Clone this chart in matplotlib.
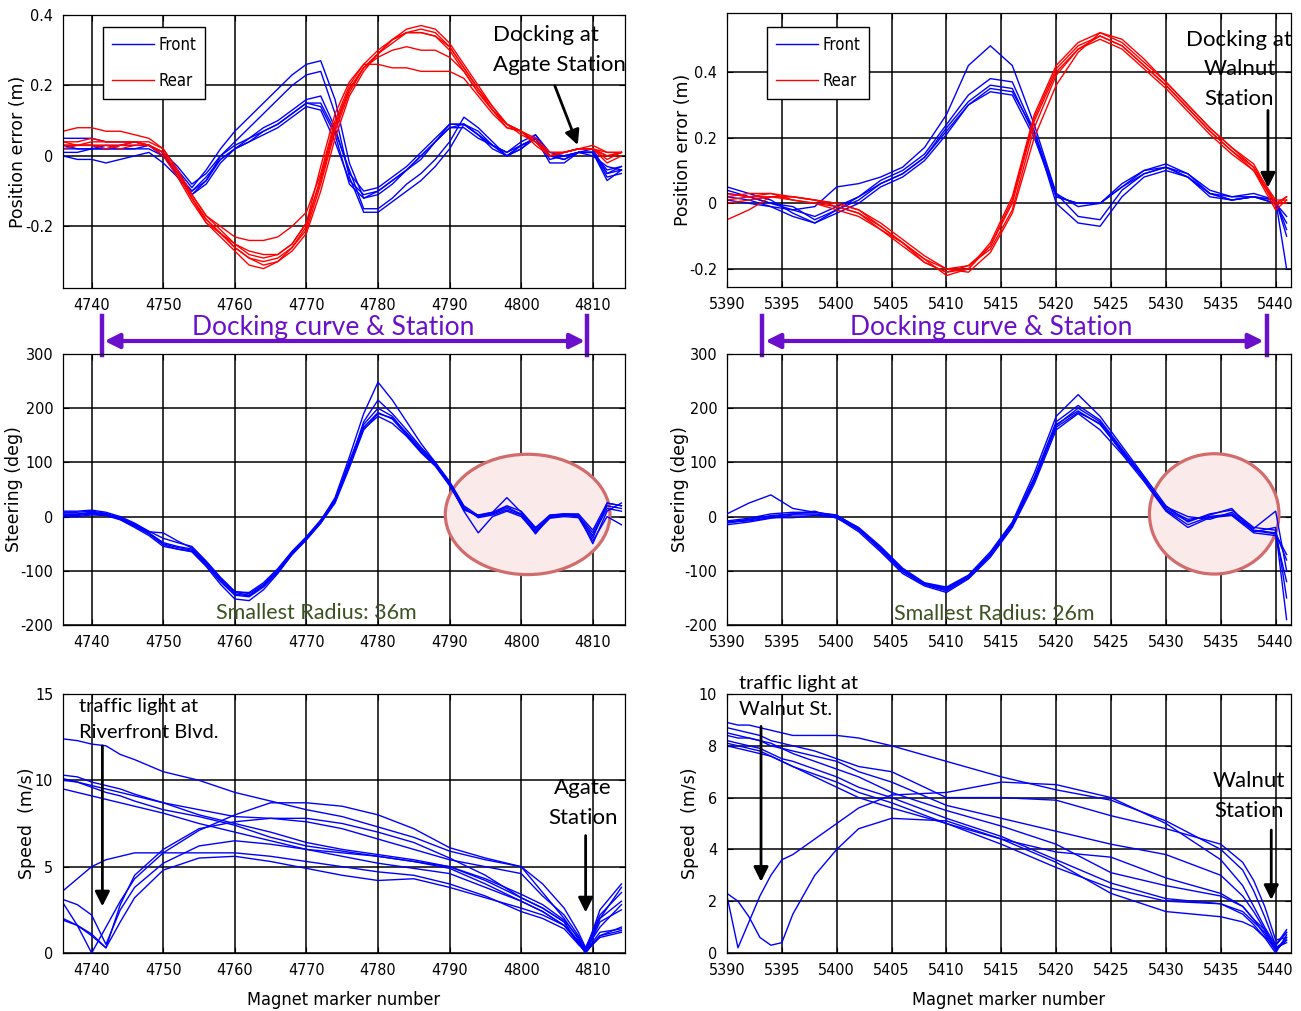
import numpy as np
import matplotlib
matplotlib.use("Agg")
import matplotlib.pyplot as plt
from matplotlib import font_manager
from matplotlib.font_manager import FontProperties
from matplotlib.patches import Ellipse
from matplotlib.transforms import blended_transform_factory

# ---------------- data ----------------
# top-left: position error, Agate run
pe_a_x = [4736, 4738, 4740, 4742, 4744, 4746, 4748, 4750, 4752, 4754, 4756, 4758, 4760, 4762,
          4764, 4766, 4768, 4770, 4772, 4774, 4776, 4778, 4780, 4782, 4784, 4786, 4788, 4790,
          4792, 4794, 4796, 4798, 4800, 4802, 4804, 4806, 4808, 4810, 4812, 4814]
pe_a_front = [
    [0.02, 0.02, 0.02, 0.03, 0.03, 0.03, 0.03, 0.0, -0.05, -0.10, -0.06, -0.01, 0.02, 0.04, 0.06, 0.08, 0.11, 0.14, 0.13, 0.04,
     -0.07, -0.11, -0.10, -0.07, -0.04, -0.01, 0.04, 0.08, 0.08, 0.05, 0.03, 0.0, 0.03, 0.05, 0.0, 0.0, 0.01, 0.01, -0.04, -0.03],
    [0.03, 0.03, 0.03, 0.02, 0.03, 0.04, 0.03, 0.01, -0.03, -0.08, -0.05, 0.0, 0.03, 0.05, 0.08, 0.10, 0.13, 0.16, 0.17, 0.08,
     -0.05, -0.10, -0.09, -0.06, -0.03, 0.01, 0.05, 0.09, 0.09, 0.06, 0.03, 0.01, 0.04, 0.06, 0.0, -0.01, 0.01, 0.01, -0.05, -0.04],
    [0.05, 0.05, 0.05, 0.04, 0.04, 0.04, 0.03, 0.0, -0.04, -0.09, -0.04, 0.02, 0.07, 0.11, 0.15, 0.19, 0.23, 0.26, 0.27, 0.16,
     -0.02, -0.12, -0.11, -0.08, -0.04, 0.0, 0.04, 0.08, 0.09, 0.06, 0.02, 0.0, 0.03, 0.05, -0.02, -0.02, 0.01, 0.01, -0.06, -0.05],
    [0.0, -0.01, -0.01, -0.02, -0.01, 0.0, 0.01, -0.02, -0.06, -0.10, -0.07, 0.0, 0.04, 0.08, 0.12, 0.16, 0.20, 0.23, 0.24, 0.12,
     -0.06, -0.16, -0.16, -0.13, -0.10, -0.07, -0.03, 0.02, 0.09, 0.07, 0.03, 0.01, 0.03, 0.05, -0.01, 0.0, 0.01, 0.0, -0.03, -0.04],
    [0.01, 0.01, 0.02, 0.02, 0.02, 0.02, 0.02, 0.0, -0.04, -0.11, -0.08, -0.02, 0.02, 0.05, 0.07, 0.09, 0.12, 0.15, 0.15, 0.07,
     -0.04, -0.15, -0.15, -0.12, -0.08, -0.05, -0.01, 0.04, 0.11, 0.08, 0.04, 0.0, 0.02, 0.05, 0.0, -0.01, 0.01, 0.01, -0.07, -0.04],
    [0.03, 0.02, 0.02, 0.02, 0.02, 0.02, 0.03, 0.01, -0.06, -0.11, -0.07, -0.01, 0.02, 0.04, 0.07, 0.09, 0.12, 0.15, 0.14, 0.06,
     -0.08, -0.12, -0.10, -0.07, -0.04, 0.0, 0.04, 0.09, 0.09, 0.06, 0.03, 0.0, 0.02, 0.06, 0.01, 0.0, 0.01, 0.02, -0.05, -0.03],
]
pe_a_rear = [
    [0.03, 0.03, 0.03, 0.03, 0.03, 0.03, 0.03, 0.01, -0.05, -0.12, -0.18, -0.22, -0.26, -0.29, -0.30, -0.29, -0.26, -0.20, -0.06, 0.09,
     0.19, 0.25, 0.29, 0.32, 0.35, 0.36, 0.35, 0.31, 0.25, 0.19, 0.13, 0.09, 0.07, 0.04, 0.0, 0.01, 0.02, 0.02, 0.0, 0.01],
    [0.07, 0.08, 0.08, 0.07, 0.07, 0.06, 0.05, 0.02, -0.04, -0.11, -0.17, -0.20, -0.23, -0.24, -0.24, -0.23, -0.20, -0.16, -0.05, 0.10,
     0.20, 0.26, 0.26, 0.25, 0.25, 0.24, 0.24, 0.24, 0.22, 0.17, 0.12, 0.08, 0.07, 0.05, 0.01, 0.01, 0.02, 0.02, 0.01, 0.01],
    [0.04, 0.04, 0.05, 0.04, 0.04, 0.04, 0.03, 0.0, -0.06, -0.13, -0.19, -0.23, -0.27, -0.31, -0.32, -0.30, -0.27, -0.22, -0.10, 0.05,
     0.17, 0.24, 0.29, 0.33, 0.36, 0.37, 0.36, 0.32, 0.26, 0.20, 0.14, 0.09, 0.07, 0.04, 0.0, 0.01, 0.02, 0.02, -0.01, 0.01],
    [0.02, 0.03, 0.03, 0.03, 0.02, 0.03, 0.03, 0.01, -0.05, -0.12, -0.18, -0.22, -0.25, -0.27, -0.28, -0.28, -0.25, -0.19, -0.07, 0.08,
     0.19, 0.25, 0.28, 0.30, 0.31, 0.30, 0.30, 0.28, 0.24, 0.18, 0.13, 0.09, 0.07, 0.04, 0.0, 0.01, 0.02, 0.02, 0.0, 0.01],
    [0.03, 0.03, 0.03, 0.02, 0.03, 0.04, 0.04, 0.02, -0.04, -0.11, -0.17, -0.21, -0.25, -0.28, -0.29, -0.28, -0.25, -0.19, -0.03, 0.12,
     0.21, 0.26, 0.30, 0.33, 0.35, 0.35, 0.34, 0.30, 0.24, 0.18, 0.13, 0.08, 0.07, 0.03, 0.0, 0.01, 0.02, 0.02, -0.02, 0.0],
    [0.04, 0.03, 0.04, 0.04, 0.04, 0.04, 0.03, 0.01, -0.05, -0.12, -0.19, -0.22, -0.26, -0.29, -0.31, -0.30, -0.26, -0.21, -0.08, 0.07,
     0.18, 0.25, 0.29, 0.33, 0.35, 0.35, 0.34, 0.31, 0.25, 0.19, 0.14, 0.09, 0.06, 0.04, 0.01, 0.01, 0.02, 0.03, 0.01, 0.01],
]

# top-right: position error, Walnut run
pe_w_x = [5390, 5392, 5394, 5396, 5398, 5400, 5402, 5404, 5406, 5408, 5410, 5412, 5414, 5416,
          5418, 5420, 5422, 5424, 5426, 5428, 5430, 5432, 5434, 5436, 5438, 5440, 5441]
pe_w_front = [
    [0.03, 0.02, 0.0, -0.01, -0.05, -0.02, 0.01, 0.06, 0.09, 0.14, 0.22, 0.30, 0.34, 0.33, 0.20, 0.02, 0.0, 0.0, 0.05, 0.09, 0.11, 0.08, 0.03, 0.01, 0.02, 0.0, -0.06],
    [0.02, 0.01, -0.01, -0.02, -0.01, 0.05, 0.06, 0.08, 0.11, 0.17, 0.27, 0.42, 0.48, 0.42, 0.24, 0.03, -0.01, 0.0, 0.06, 0.10, 0.12, 0.09, 0.04, 0.02, 0.02, 0.01, -0.20],
    [0.05, 0.03, 0.01, -0.03, -0.06, -0.02, 0.02, 0.07, 0.10, 0.15, 0.24, 0.33, 0.38, 0.37, 0.22, 0.0, -0.06, -0.07, 0.02, 0.08, 0.10, 0.08, 0.02, 0.01, 0.02, 0.01, -0.10],
    [0.01, 0.0, -0.01, -0.04, -0.06, -0.03, 0.0, 0.05, 0.08, 0.13, 0.21, 0.30, 0.35, 0.34, 0.22, 0.03, -0.04, -0.05, 0.04, 0.09, 0.11, 0.09, 0.03, 0.01, 0.02, 0.0, -0.04],
    [0.04, 0.02, 0.0, -0.02, -0.04, -0.01, 0.02, 0.06, 0.09, 0.14, 0.23, 0.31, 0.36, 0.35, 0.21, 0.02, 0.0, 0.0, 0.05, 0.10, 0.11, 0.08, 0.03, 0.02, 0.03, 0.01, -0.08],
]
pe_w_rear = [
    [0.01, 0.02, 0.03, 0.01, 0.0, -0.01, -0.03, -0.07, -0.12, -0.17, -0.20, -0.19, -0.13, 0.0, 0.25, 0.40, 0.47, 0.51, 0.48, 0.42, 0.36, 0.29, 0.22, 0.16, 0.11, 0.01, 0.01],
    [-0.05, -0.02, 0.02, 0.02, 0.01, 0.0, -0.02, -0.06, -0.11, -0.16, -0.20, -0.21, -0.15, -0.03, 0.20, 0.36, 0.46, 0.52, 0.49, 0.43, 0.37, 0.30, 0.23, 0.17, 0.12, 0.0, 0.02],
    [0.02, 0.03, 0.03, 0.02, 0.01, 0.0, -0.02, -0.07, -0.12, -0.18, -0.21, -0.20, -0.12, 0.02, 0.27, 0.42, 0.49, 0.52, 0.50, 0.44, 0.37, 0.30, 0.23, 0.17, 0.11, -0.01, 0.02],
    [0.0, 0.01, 0.02, 0.02, 0.01, -0.01, -0.03, -0.08, -0.13, -0.18, -0.21, -0.19, -0.14, -0.02, 0.23, 0.39, 0.47, 0.50, 0.47, 0.41, 0.35, 0.28, 0.21, 0.15, 0.10, 0.0, 0.0],
    [0.03, 0.02, 0.02, 0.01, 0.0, -0.02, -0.04, -0.08, -0.12, -0.17, -0.22, -0.20, -0.13, 0.01, 0.26, 0.41, 0.48, 0.51, 0.48, 0.42, 0.36, 0.29, 0.22, 0.16, 0.10, -0.02, 0.01],
]

# middle-left: steering, Agate run
st_a_x = pe_a_x
st_a = [
    [5, 5, 8, 5, -3, -15, -30, -48, -55, -60, -85, -115, -140, -145, -128, -100, -67, -40, -10, 30,
     100, 165, 192, 180, 150, 120, 95, 60, 15, 0, 5, 15, 5, -25, 0, 3, 2, -30, 20, 15],
    [10, 10, 12, 8, 0, -12, -27, -40, -48, -55, -82, -112, -138, -142, -125, -98, -65, -38, -8, 35,
     110, 190, 248, 215, 175, 135, 100, 65, 20, 2, 8, 20, 10, -20, 2, 5, 3, -40, 25, 20],
    [2, 2, 5, 3, -5, -18, -32, -52, -60, -64, -90, -120, -145, -148, -130, -103, -70, -43, -12, 28,
     95, 175, 215, 190, 160, 128, 100, 62, 18, -2, 3, 12, 3, -28, -2, 2, 0, -35, 15, 10],
    [0, 0, 3, 2, -6, -20, -35, -55, -60, -65, -92, -125, -152, -155, -135, -105, -70, -42, -12, 25,
     90, 160, 190, 182, 155, 125, 98, 60, 10, -30, 0, 10, 0, -30, -3, 0, -2, -45, 0, -15],
    [8, 8, 10, 6, -2, -14, -28, -30, -45, -58, -84, -114, -139, -140, -122, -96, -64, -37, -6, 32,
     102, 170, 200, 185, 152, 122, 96, 58, 12, 3, 8, 35, 8, -22, 3, 5, 5, -25, 25, 20],
    [4, 4, 6, 4, -4, -16, -31, -50, -57, -62, -88, -118, -143, -146, -127, -101, -68, -41, -11, 28,
     97, 162, 185, 172, 148, 118, 93, 57, 14, 0, 6, 18, 4, -32, 1, 4, 2, -50, 10, 25],
]

# middle-right: steering, Walnut run
st_w_x = pe_w_x
st_w = [
    [-10, -5, 2, 5, 5, 0, -25, -60, -100, -125, -135, -112, -70, -15, 70, 170, 195, 170, 120, 70, 15, -5, 0, 5, -25, -30, -80],
    [5, 25, 40, 15, 8, 2, -20, -55, -95, -122, -130, -108, -65, -10, 80, 185, 225, 185, 130, 75, 20, -10, 5, 12, -20, -25, -190],
    [-15, -10, -3, 3, 3, -2, -28, -65, -105, -128, -140, -115, -75, -20, 60, 160, 190, 160, 115, 65, 10, -20, -2, 2, -30, -35, -120],
    [-8, -3, 5, 8, 8, 3, -22, -58, -98, -124, -133, -110, -68, -12, 72, 175, 205, 178, 125, 72, 12, -8, 3, 15, -28, -20, -150],
    [-12, -6, 0, 5, 10, -3, -24, -62, -102, -126, -137, -114, -72, -18, 65, 168, 200, 175, 122, 68, 18, 0, -5, 8, -22, 10, -100],
    [-10, -8, -2, -2, 2, 0, -22, -58, -98, -123, -132, -110, -70, -14, 68, 165, 192, 172, 118, 70, 12, -15, 0, 3, -26, -32, -70],
]

# bottom-left: speed, Agate run
sp_a_x = [4736, 4738, 4740, 4742, 4744, 4746, 4750, 4755, 4760, 4765, 4770, 4775, 4780, 4785,
          4790, 4795, 4800, 4803, 4806, 4808, 4809, 4811, 4814]
sp_a = [
    [12.4, 12.3, 12.1, 12.0, 11.5, 11.2, 10.5, 10.0, 9.3, 8.8, 8.3, 7.9, 7.3, 6.7, 5.9, 5.4, 5.0, 4.0, 2.6, 1.2, 0.3, 2.0, 3.8],
    [10.3, 10.2, 9.9, 9.7, 9.5, 9.2, 8.7, 8.0, 7.5, 7.0, 6.4, 6.0, 5.7, 5.4, 5.0, 4.3, 3.4, 2.8, 1.9, 0.9, 0.1, 1.2, 1.4],
    [10.1, 9.9, 9.6, 9.3, 9.1, 8.8, 8.3, 7.9, 7.4, 6.7, 6.2, 5.9, 5.6, 5.3, 4.9, 4.0, 3.0, 2.4, 1.6, 0.7, 0.1, 0.9, 1.2],
    [9.5, 9.3, 9.1, 8.9, 8.7, 8.5, 8.1, 7.5, 7.0, 6.5, 6.0, 5.6, 5.2, 4.9, 4.6, 3.8, 3.0, 2.4, 1.6, 0.6, 0.0, 1.8, 2.5],
    [10.0, 9.9, 9.7, 9.5, 9.3, 9.1, 8.7, 8.3, 7.9, 7.8, 7.6, 7.2, 6.6, 6.0, 5.4, 5.0, 4.6, 3.3, 2.2, 1.0, 0.3, 2.2, 3.5],
    [3.6, 4.3, 5.0, 5.4, 5.6, 5.8, 5.8, 5.8, 5.8, 5.6, 5.3, 5.0, 4.7, 4.5, 4.0, 3.3, 2.4, 2.0, 1.4, 0.5, 0.1, 1.0, 1.5],
    [3.1, 2.8, 2.2, 0.5, 2.5, 3.8, 5.2, 6.2, 6.5, 6.3, 6.0, 5.8, 5.6, 5.3, 5.0, 4.2, 3.2, 2.6, 1.8, 0.6, 0.0, 2.0, 3.0],
    [1.9, 1.6, 1.0, 0.3, 2.8, 4.5, 6.0, 7.2, 7.6, 7.8, 7.8, 7.5, 7.0, 6.4, 5.5, 4.5, 3.2, 2.6, 1.8, 0.5, 0.1, 2.5, 4.0],
    [2.9, 1.6, 0.0, 1.5, 3.0, 4.3, 5.8, 7.1, 8.0, 8.7, 8.7, 8.5, 8.0, 7.2, 6.1, 5.5, 5.0, 3.5, 2.0, 0.8, 0.2, 1.5, 2.8],
    [2.0, 1.6, 1.1, 0.3, 1.8, 3.2, 4.8, 5.5, 5.6, 5.3, 4.9, 4.5, 4.2, 4.3, 3.8, 3.2, 2.6, 2.2, 1.6, 0.6, 0.0, 1.0, 1.3],
]

# bottom-right: speed, Walnut run
sp_w_x = [5390, 5391, 5392, 5393, 5394, 5395, 5396, 5398, 5400, 5402, 5405, 5410, 5415, 5420,
          5425, 5430, 5435, 5437, 5438, 5439, 5440, 5441]
sp_w = [
    [8.9, 8.8, 8.8, 8.7, 8.6, 8.5, 8.4, 8.4, 8.4, 8.3, 8.0, 7.4, 6.8, 6.3, 5.9, 5.1, 4.0, 3.2, 2.4, 1.4, 0.3, 0.8],
    [8.7, 8.6, 8.5, 8.4, 8.2, 8.1, 8.0, 7.8, 7.5, 7.2, 7.0, 6.0, 6.0, 5.9, 5.3, 4.8, 4.2, 3.5, 2.8, 1.8, 0.5, 0.6],
    [8.5, 8.4, 8.3, 8.2, 8.0, 7.9, 7.7, 7.4, 7.1, 6.8, 6.2, 5.5, 4.9, 4.2, 3.1, 2.6, 2.2, 1.8, 1.3, 0.9, 0.2, 0.5],
    [8.2, 8.1, 8.0, 7.9, 7.7, 7.5, 7.4, 7.1, 6.8, 6.4, 6.0, 5.2, 4.5, 3.6, 2.7, 2.1, 1.9, 1.6, 1.2, 0.8, 0.1, 0.6],
    [8.0, 7.9, 7.8, 7.7, 7.6, 7.4, 7.2, 6.8, 6.4, 6.0, 5.6, 5.0, 4.4, 3.5, 2.3, 1.6, 1.4, 1.2, 1.0, 0.6, 0.3, 0.8],
    [8.4, 8.3, 8.3, 8.2, 8.1, 7.9, 7.8, 7.6, 7.4, 7.0, 6.6, 5.7, 5.2, 4.7, 4.2, 3.8, 3.0, 2.2, 1.6, 0.9, 0.2, 0.4],
    [8.1, 8.0, 7.9, 7.8, 7.6, 7.4, 7.2, 6.9, 6.6, 6.2, 5.8, 5.0, 4.2, 3.3, 2.5, 2.0, 1.9, 1.5, 1.1, 0.6, 0.0, 0.7],
    [2.2, 0.2, 1.2, 2.2, 3.0, 3.6, 3.8, 4.4, 5.0, 5.6, 6.1, 6.2, 6.6, 6.5, 6.0, 5.0, 3.6, 2.6, 1.8, 1.0, 0.3, 0.9],
    [2.3, 2.0, 1.4, 0.6, 0.3, 0.4, 1.5, 3.0, 4.0, 4.8, 5.2, 5.1, 4.4, 3.9, 3.7, 2.9, 2.3, 1.8, 1.3, 0.7, 0.1, 0.5],
]

# ---------------- fonts ----------------
# the original tick labels use a narrow sans; pick one if the box has it
narrow_file = None
for f in font_manager.fontManager.ttflist:
    nm = f.name
    if 'Mono' in nm or 'Serif' in nm:
        continue
    if f.style != 'normal' or f.weight not in (400, 'normal', 'regular', 'book'):
        continue
    if 'Narrow' in nm or 'Condensed' in nm or f.stretch in ('condensed', 'semi-condensed'):
        narrow_file = f.fname
        break

if narrow_file:
    TICK_FP = FontProperties(fname=narrow_file, size=11.5)
    LEG_FP = FontProperties(fname=narrow_file, size=12)
    XL_FP = FontProperties(fname=narrow_file, size=13)
else:
    TICK_FP = FontProperties(family=['Liberation Sans', 'DejaVu Sans'], size=10.5)
    LEG_FP = FontProperties(family=['Liberation Sans', 'DejaVu Sans'], size=11)
    XL_FP = FontProperties(family=['Liberation Sans', 'DejaVu Sans'], size=11)

plt.rcParams['font.family'] = ['Liberation Sans', 'DejaVu Sans']

# ---------------- layout ----------------
W, H = 1301, 1011
BLUE = '#0000ff'
RED = '#ff0000'
PURPLE = '#6a10cc'
GREEN = '#3b5320'
NOTE_FONT = ['Lato', 'DejaVu Sans']


def px_rect(l, r, t, b):
    return [l / W, 1 - b / H, (r - l) / W, (b - t) / H]


def style(ax, xlim, ylim, xticks, yticks, ylabels, ylabel, ylab_x):
    ax.set_xlim(*xlim)
    ax.set_ylim(*ylim)
    ax.set_xticks(xticks)
    ax.set_xticklabels([str(t) for t in xticks])
    ax.set_yticks(yticks)
    ax.set_yticklabels(ylabels)
    for lbl in ax.get_xticklabels() + ax.get_yticklabels():
        lbl.set_fontproperties(TICK_FP)
    ax.set_axisbelow(True)
    ax.grid(True, color='black', lw=1.1)
    ax.tick_params(direction='in', top=True, right=True, length=4, pad=7)
    for s in ax.spines.values():
        s.set_linewidth(0.9)
    ax.set_ylabel(ylabel, family='DejaVu Sans', fontsize=12.5, va='center')
    ax.yaxis.set_label_coords(ylab_x, 0.5)


fig = plt.figure(figsize=(W / 100, H / 100), dpi=100)

ax_pa = fig.add_axes(px_rect(63, 625, 15, 288))
ax_pw = fig.add_axes(px_rect(727, 1291, 13, 287))
ax_sa = fig.add_axes(px_rect(63, 625, 354, 625))
ax_sw = fig.add_axes(px_rect(727, 1291, 354, 625))
ax_va = fig.add_axes(px_rect(63, 625, 694, 953))
ax_vw = fig.add_axes(px_rect(727, 1291, 694, 953))

ticks_a = list(range(4740, 4811, 10))
ticks_w = list(range(5390, 5441, 5))

# position error
for tr in pe_a_front:
    ax_pa.plot(pe_a_x, tr, color=BLUE, lw=1.0)
for tr in pe_a_rear:
    ax_pa.plot(pe_a_x, tr, color=RED, lw=1.0)
for tr in pe_w_front:
    ax_pw.plot(pe_w_x, tr, color=BLUE, lw=1.0)
for tr in pe_w_rear:
    ax_pw.plot(pe_w_x, tr, color=RED, lw=1.0)

style(ax_pa, (4736, 4814.5), (-0.375, 0.4), ticks_a, [-0.2, 0, 0.2, 0.4],
      ['-0.2', '0', '0.2', '0.4'], 'Position error (m)', -0.08)
style(ax_pw, (5390, 5441.4), (-0.255, 0.58), ticks_w, [-0.2, 0, 0.2, 0.4],
      ['-0.2', '0', '0.2', '0.4'], 'Position error (m)', -0.078)

for ax, anchor in [(ax_pa, (0.0712, 0.956)), (ax_pw, (0.071, 0.949))]:
    h1, = ax.plot([], [], color=BLUE, lw=1, label='Front')
    h2, = ax.plot([], [], color=RED, lw=1, label='Rear')
    leg = ax.legend(handles=[h1, h2], loc='upper left', bbox_to_anchor=anchor, prop=LEG_FP,
                    handlelength=2.5, labelspacing=1.05, fancybox=False, framealpha=1,
                    edgecolor='black', borderpad=0.55, handletextpad=0.25, borderaxespad=0)
    leg.get_frame().set_linewidth(1.0)

# steering
for tr in st_a:
    ax_sa.plot(st_a_x, tr, color=BLUE, lw=1.0, zorder=3)
for tr in st_w:
    ax_sw.plot(st_w_x, tr, color=BLUE, lw=1.0, zorder=3)
style(ax_sa, (4736, 4814.5), (-200, 300), ticks_a, [-200, -100, 0, 100, 200, 300],
      ['-200', '-100', '0', '100', '200', '300'], 'Steering (deg)', -0.087)
style(ax_sw, (5390, 5441.4), (-200, 300), ticks_w, [-200, -100, 0, 100, 200, 300],
      ['-200', '-100', '0', '100', '200', '300'], 'Steering (deg)', -0.083)

ax_sa.add_patch(Ellipse((4800.9, 4), 23.0, 222, facecolor='#fbeaea', edgecolor='#d26b6b',
                        lw=2.3, zorder=2))
ax_sw.add_patch(Ellipse((5434.4, 5), 11.8, 222, facecolor='#fbeaea', edgecolor='#d26b6b',
                        lw=2.3, zorder=2))

ax_sa.text(4771.4, -178, 'Smallest Radius: 36m', color=GREEN, fontsize=15.5, family=NOTE_FONT,
           ha='center', va='center', zorder=5)
ax_sw.text(5414.4, -180, 'Smallest Radius: 26m', color=GREEN, fontsize=15.5, family=NOTE_FONT,
           ha='center', va='center', zorder=5)

# docking curve span (purple), drawn above the steering panels
for ax, x0, x1, xt in [(ax_sa, 4741.5, 4809.2, 4773.8), (ax_sw, 5393.2, 5439.2, 5414.1)]:
    tr = blended_transform_factory(ax.transData, ax.transAxes)
    ax.annotate('', xy=(x1 - 0.3, 1.048), xytext=(x0 + 0.3, 1.048), xycoords=tr, textcoords=tr,
                arrowprops=dict(arrowstyle='<|-|>', color=PURPLE, lw=3, mutation_scale=22,
                                shrinkA=0, shrinkB=0), annotation_clip=False)
    for xb in (x0, x1):
        ax.plot([xb, xb], [0.995, 1.14], color=PURPLE, lw=3.2, transform=tr, clip_on=False)
    ax.text(xt, 1.098, 'Docking curve & Station', color=PURPLE,
            fontsize=19, family=NOTE_FONT, ha='center', va='center', transform=tr)

# speed
for tr in sp_a:
    ax_va.plot(sp_a_x, tr, color=BLUE, lw=1.0)
for tr in sp_w:
    ax_vw.plot(sp_w_x, tr, color=BLUE, lw=1.0)
style(ax_va, (4736, 4814.5), (0, 15), ticks_a, [0, 5, 10, 15], ['0', '5', '10', '15'],
      'Speed  (m/s)', -0.064)
style(ax_vw, (5390, 5441.4), (0, 10), ticks_w, [0, 2, 4, 6, 8, 10],
      ['0', '2', '4', '6', '8', '10'], 'Speed  (m/s)', -0.066)
for ax in (ax_va, ax_vw):
    ax.set_xlabel('Magnet marker number', fontproperties=XL_FP, va='center')
    ax.xaxis.set_label_coords(0.5, -0.181)

# annotations with arrows
arrow = dict(arrowstyle='-|>', color='black', lw=2, mutation_scale=22, shrinkA=0, shrinkB=0)

ax_pa.text(4796.0, 0.30, 'Docking at\nAgate Station', fontsize=16, family=NOTE_FONT,
           ha='left', va='center', linespacing=1.6, zorder=6)
ax_pa.annotate('', xy=(4807.9, 0.031), xytext=(4804.7, 0.199), arrowprops=arrow, zorder=6)

ax_pw.text(5436.7, 0.409, 'Docking at\nWalnut\nStation', fontsize=16, family=NOTE_FONT,
           ha='center', va='center', linespacing=1.6, zorder=6)
ax_pw.annotate('', xy=(5439.3, 0.048), xytext=(5439.3, 0.283), arrowprops=arrow,
               annotation_clip=False, zorder=6)

ax_va.text(4738.3, 13.5, 'traffic light at\nRiverfront Blvd.', fontsize=14.5, family=NOTE_FONT,
           ha='left', va='center', linespacing=1.65, zorder=6)
ax_va.annotate('', xy=(4741.5, 2.7), xytext=(4741.5, 12.0), arrowprops=arrow, zorder=6)
ax_va.text(4808.6, 8.69, 'Agate\nStation', fontsize=16, family=NOTE_FONT,
           ha='center', va='center', linespacing=1.65, zorder=6)
ax_va.annotate('', xy=(4809.0, 2.35), xytext=(4809.0, 6.8), arrowprops=arrow, zorder=6)

ax_vw.text(5391.1, 9.92, 'traffic light at\nWalnut St.', fontsize=14.5, family=NOTE_FONT,
           ha='left', va='center', linespacing=1.65, zorder=6, clip_on=False)
ax_vw.annotate('', xy=(5393.1, 2.75), xytext=(5393.1, 8.75), arrowprops=arrow, zorder=6)
ax_vw.text(5437.6, 6.06, 'Walnut\nStation', fontsize=16, family=NOTE_FONT,
           ha='center', va='center', linespacing=1.65, zorder=6)
ax_vw.annotate('', xy=(5439.6, 2.05), xytext=(5439.6, 4.75), arrowprops=arrow, zorder=6)

fig.savefig('out.png', dpi=100)
